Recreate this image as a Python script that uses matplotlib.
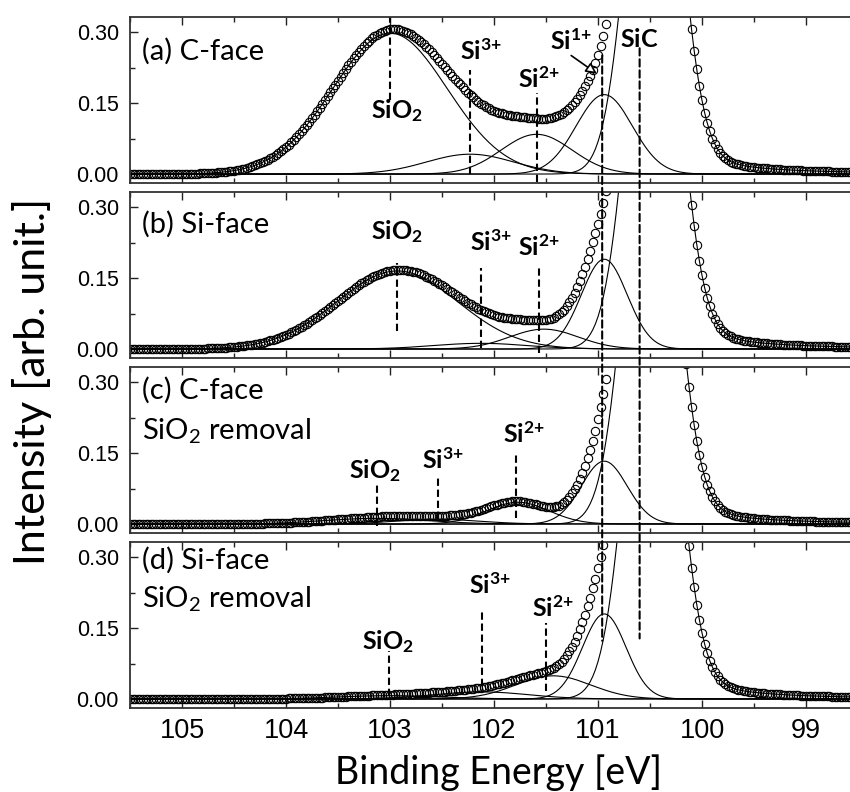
import numpy as np
import matplotlib.pyplot as plt
from matplotlib.ticker import MultipleLocator, FormatStrFormatter
from matplotlib.patches import ConnectionPatch

plt.rcParams['font.family'] = ['Lato', 'DejaVu Sans']
plt.rcParams['mathtext.fontset'] = 'custom'
plt.rcParams['mathtext.rm'] = 'Lato'
plt.rcParams['mathtext.bf'] = 'Lato:bold'
plt.rcParams['mathtext.it'] = 'Lato:italic'

# measurement energies (eV)
energy = np.arange(98.55, 105.55, 0.025)

# fitted components, one value per panel (a, b, c, d)
sio2_center = [103.00, 102.93, 103.13, 103.00]
sio2_height = [0.298, 0.165, 0.012, 0.007]
sio2_sigma = [0.55, 0.58, 0.50, 0.50]

si3_center = [102.23, 102.13, 102.54, 102.12]
si3_height = [0.042, 0.012, 0.010, 0.015]
si3_sigma = [0.42, 0.45, 0.40, 0.45]

si2_center = [101.59, 101.52, 101.77, 101.43]
si2_height = [0.084, 0.042, 0.046, 0.049]
si2_sigma = [0.34, 0.33, 0.30, 0.36]

si1_center = [100.94, 100.94, 100.94, 100.94]
si1_height = [0.168, 0.190, 0.133, 0.180]
si1_sigma = [0.27, 0.22, 0.22, 0.21]

sic_center = [100.47, 100.47, 100.50, 100.485]
sic_height = [0.93, 0.93, 0.93, 0.93]
sic_sigma = [0.232, 0.232, 0.232, 0.232]
sic_tail = [0.017, 0.017, 0.015, 0.017]

panel_title = ['(a) C-face', '(b) Si-face', '(c) C-face', '(d) Si-face']
panel_sub = ['', '', 'SiO$_2$ removal', 'SiO$_2$ removal']


def gauss(x, c, h, s):
    return h * np.exp(-(x - c) ** 2 / (2 * s ** 2))


def sic_peak(x, c, h, s, tail):
    # gaussian core with a lorentzian tail on the low energy side
    low = tail / ((x - c) ** 2 + 0.25)
    return gauss(x, c, h, s) + np.where(x < c, low, 0.0)


fig = plt.figure(figsize=(8.5, 7.92), dpi=100)
bottoms = [0.7689, 0.5480, 0.3270, 0.1061]
axes = [fig.add_axes([0.153, b, 0.847, 0.2096]) for b in bottoms]

ylo, yhi = -0.019, 0.332
for i, ax in enumerate(axes):
    comps = [
        gauss(energy, sio2_center[i], sio2_height[i], sio2_sigma[i]),
        gauss(energy, si3_center[i], si3_height[i], si3_sigma[i]),
        gauss(energy, si2_center[i], si2_height[i], si2_sigma[i]),
        gauss(energy, si1_center[i], si1_height[i], si1_sigma[i]),
        sic_peak(energy, sic_center[i], sic_height[i], sic_sigma[i], sic_tail[i]),
    ]
    for c in comps:
        ax.plot(energy, c, color='black', lw=0.8)
    total = np.sum(comps, axis=0)
    ax.plot(energy, total, 'o', mfc='none', mec='black', ms=6, mew=0.8)

    ax.set_xlim(105.5, 98.577)
    ax.set_ylim(ylo, yhi)
    ax.xaxis.set_major_locator(MultipleLocator(1))
    ax.xaxis.set_minor_locator(MultipleLocator(0.5))
    ax.yaxis.set_major_locator(MultipleLocator(0.15))
    ax.yaxis.set_minor_locator(MultipleLocator(0.075))
    ax.yaxis.set_major_formatter(FormatStrFormatter('%.2f'))
    ax.tick_params(which='both', direction='in', top=True, right=False,
                   colors='#222222', labelcolor='black')
    ax.tick_params(which='major', length=6, width=1.0)
    ax.tick_params(which='minor', length=3.5, width=1.0)
    ax.tick_params(axis='y', labelsize=15.5, pad=8, labelfontfamily='Liberation Sans')
    ax.tick_params(axis='x', labelsize=19.5, pad=7, labelfontfamily='Liberation Sans')
    if i < 3:
        ax.tick_params(axis='x', labelbottom=False)
    for side in ['left', 'top', 'bottom']:
        ax.spines[side].set_color('#333333')
        ax.spines[side].set_linewidth(1.3)
    ax.spines['right'].set_visible(False)

# panel titles
title_y = [0.741, 0.753, 0.807, 0.836]
sub_y = [None, None, 0.566, 0.606]
for i, ax in enumerate(axes):
    ax.text(0.0167, title_y[i], panel_title[i], transform=ax.transAxes,
            fontsize=21, va='baseline', ha='left')
    if sub_y[i] is not None:
        ax.text(0.0167, sub_y[i], panel_sub[i], transform=ax.transAxes,
                fontsize=21, va='baseline', ha='left')

# peak markers: (panel, label, label x, label y, line x, line y0, line y1)
marks = [
    (0, r'$\mathbf{SiO_2}$', 102.93, 0.118, 103.00, 0.156, 0.332),
    (0, r'$\mathbf{Si^{3{+}}}$', 102.13, 0.241, 102.23, 0.000, 0.220),
    (0, r'$\mathbf{Si^{2{+}}}$', 101.57, 0.182, 101.59, -0.016, 0.171),
    (1, r'$\mathbf{SiO_2}$', 102.93, 0.232, 102.93, 0.038, 0.181),
    (1, r'$\mathbf{Si^{3{+}}}$', 102.03, 0.207, 102.13, 0.002, 0.172),
    (1, r'$\mathbf{Si^{2{+}}}$', 101.57, 0.196, 101.57, -0.008, 0.177),
    (2, r'$\mathbf{SiO_2}$', 103.15, 0.098, 103.13, -0.004, 0.085),
    (2, r'$\mathbf{Si^{3{+}}}$', 102.49, 0.116, 102.54, 0.010, 0.097),
    (2, r'$\mathbf{Si^{2{+}}}$', 101.71, 0.171, 101.79, 0.013, 0.150),
    (3, r'$\mathbf{SiO_2}$', 103.02, 0.106, 103.01, 0.006, 0.102),
    (3, r'$\mathbf{Si^{3{+}}}$', 102.04, 0.223, 102.12, 0.028, 0.191),
    (3, r'$\mathbf{Si^{2{+}}}$', 101.43, 0.174, 101.50, 0.017, 0.160),
]
dash = (0, (3.5, 1.8))
for p, lab, tx, ty, lx, y0, y1 in marks:
    ax = axes[p]
    ax.text(tx, ty, lab, fontsize=18, ha='center', va='baseline')
    ax.plot([lx, lx], [y0, y1], color='black', lw=1.5, linestyle=dash)

axes[0].text(101.26, 0.262, r'$\mathbf{Si^{1{+}}}$', fontsize=18, ha='center', va='baseline')
axes[0].text(100.60, 0.269, r'$\mathbf{SiC}$', fontsize=18, ha='center', va='baseline')
axes[0].annotate('', xy=(100.99, 0.209), xytext=(101.28, 0.254),
                 arrowprops=dict(arrowstyle='-|>', fc='white', ec='black',
                                 lw=1.2, mutation_scale=16))

# long dashed lines through all panels
for lx, ytop, ybot in [(100.96, 0.251, 0.123), (100.60, 0.266, 0.128)]:
    con = ConnectionPatch(xyA=(lx, ytop), coordsA=axes[0].transData,
                          xyB=(lx, ybot), coordsB=axes[3].transData,
                          color='black', lw=1.5, linestyle=dash)
    fig.add_artist(con)

fig.text(0.038, 0.518, 'Intensity [arb. unit.]', rotation=90, fontsize=31,
         ha='center', va='center')
fig.text(0.586, 0.025, 'Binding Energy [eV]', fontsize=27,
         ha='center', va='center')

fig.savefig('out.png', dpi=100)
